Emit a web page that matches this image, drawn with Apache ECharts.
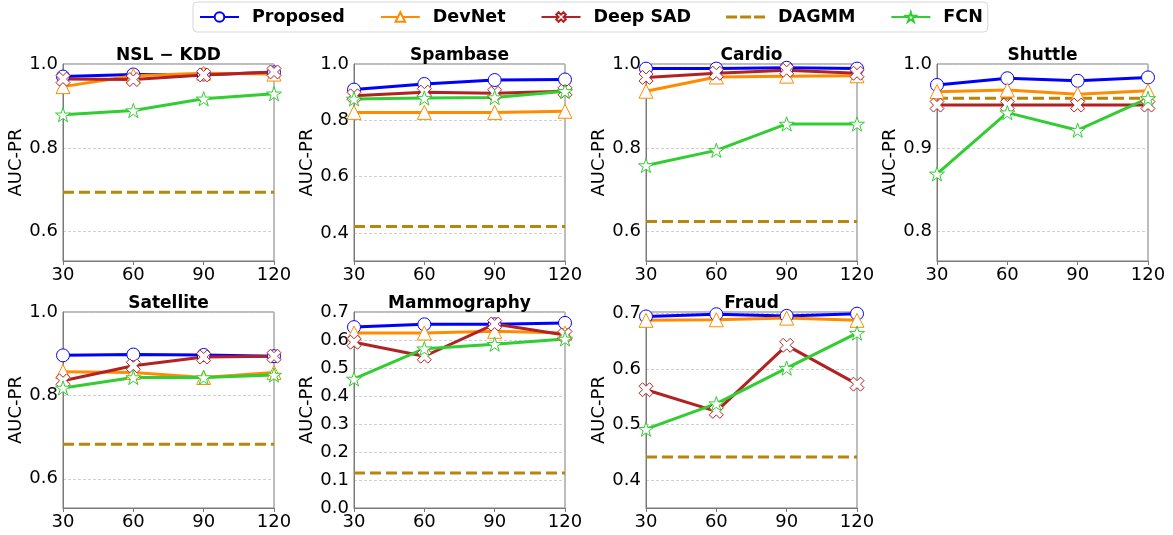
<!DOCTYPE html>
<html>
<head>
<meta charset="utf-8">
<title>AUC-PR per dataset</title>
<script src="https://cdn.jsdelivr.net/npm/echarts@6/dist/echarts.min.js"></script>
<style>
    html, body { margin: 0; padding: 0; background: #fff; }
    #main { width: 1173px; height: 535px; }
</style>
</head>
<body>
<div id="main"></div>
<script>
// 数据
var datasets = ['NSL \u2212 KDD', 'Spambase', 'Cardio', 'Shuttle', 'Satellite', 'Mammography', 'Fraud'];
var methods = ['Proposed', 'DevNet', 'Deep SAD', 'DAGMM', 'FCN'];
var xValues = [30, 60, 90, 120];

// one row per dataset, same order as datasets
var proposed = [
    [0.970, 0.975, 0.975, 0.980],
    [0.909, 0.929, 0.943, 0.945],
    [0.989, 0.989, 0.991, 0.989],
    [0.975, 0.983, 0.980, 0.984],
    [0.896, 0.898, 0.897, 0.894],
    [0.646, 0.656, 0.656, 0.661],
    [0.695, 0.699, 0.696, 0.700]
];
var devNet = [
    [0.946, 0.972, 0.978, 0.976],
    [0.828, 0.828, 0.828, 0.832],
    [0.935, 0.969, 0.971, 0.972],
    [0.967, 0.969, 0.964, 0.968],
    [0.857, 0.855, 0.843, 0.855],
    [0.625, 0.625, 0.631, 0.625],
    [0.688, 0.689, 0.692, 0.688]
];
var deepSAD = [
    [0.964, 0.963, 0.974, 0.981],
    [0.887, 0.900, 0.896, 0.903],
    [0.968, 0.978, 0.985, 0.978],
    [0.951, 0.951, 0.951, 0.951],
    [0.835, 0.871, 0.892, 0.894],
    [0.592, 0.542, 0.657, 0.618],
    [0.563, 0.524, 0.643, 0.573]
];
var dagmm = [
    [0.694, 0.694, 0.694, 0.694],
    [0.423, 0.423, 0.423, 0.423],
    [0.624, 0.624, 0.624, 0.624],
    [0.959, 0.959, 0.959, 0.959],
    [0.683, 0.683, 0.683, 0.683],
    [0.125, 0.125, 0.125, 0.125],
    [0.442, 0.442, 0.442, 0.442]
];
var fcn = [
    [0.879, 0.889, 0.917, 0.929],
    [0.876, 0.879, 0.881, 0.903],
    [0.758, 0.794, 0.857, 0.857],
    [0.869, 0.942, 0.921, 0.959],
    [0.818, 0.843, 0.843, 0.849],
    [0.461, 0.569, 0.585, 0.604],
    [0.492, 0.538, 0.602, 0.665]
];

// y tick labels and y limits per dataset
var yTicks = [
    [0.6, 0.8, 1.0],
    [0.4, 0.6, 0.8, 1.0],
    [0.6, 0.8, 1.0],
    [0.8, 0.9, 1.0],
    [0.6, 0.8, 1.0],
    [0.0, 0.1, 0.2, 0.3, 0.4, 0.5, 0.6, 0.7],
    [0.4, 0.5, 0.6, 0.7]
];
var yLimits = [
    [0.53, 1.0],
    [0.30, 1.0],
    [0.53, 1.0],
    [0.765, 1.0],
    [0.53, 1.0],
    [0.0, 0.7],
    [0.35, 0.703]
];

// 布局 (px)
var colLeft = [63, 354, 646, 937];
var rowTop = [64, 312];
var rowHeight = [197, 196];
var plotWidth = 211;

var FONT = 'DejaVu Sans';
var SPINE = '#7a7a7a';

var xMark = 'path://M1 0L2 1L3 0L4 1L3 2L4 3L3 4L2 3L1 4L0 3L1 2L0 1Z';
var starMark = 'path://M1 0L1.2245 0.691L1.9511 0.691L1.3633 1.118L1.5878 1.809L1 1.382L0.4122 1.809L0.6367 1.118L0.0489 0.691L0.7755 0.691Z';
// legend glyph for the marker-less dashed series
var dashMark = 'path://M0 0H11V3H0Z M14 0H25V3H14Z M28 0H39V3H28Z';

var values = [proposed, devNet, deepSAD, dagmm, fcn];
var looks = [
    { color: '#0000ff', symbol: 'circle', size: 13 },
    { color: '#ff8c00', symbol: 'triangle', size: 14 },
    { color: '#b22222', symbol: xMark, size: 14 },
    { color: '#b8860b', symbol: 'none', size: 0, dash: [11, 5] },
    { color: '#32cd32', symbol: starMark, size: 15 }
];

var grids = [], xAxes = [], yAxes = [], titles = [], series = [];

datasets.forEach(function (name, i) {
    var row = i < 4 ? 0 : 1
        , col = i % 4
        , ticks = yTicks[i]
        , step = Math.round((ticks[1] - ticks[0]) * 1000) / 1000;

    grids.push({
        left: colLeft[col], top: rowTop[row], width: plotWidth, height: rowHeight[row],
        show: true, borderColor: SPINE, borderWidth: 1
    });

    titles.push({
        text: name,
        left: colLeft[col] + plotWidth / 2,
        top: rowTop[row] - 17,
        textAlign: 'center',
        padding: 0,
        textStyle: { fontFamily: FONT, fontSize: 17, fontWeight: 'bold', color: '#000' }
    });

    xAxes.push({
        type: 'value', gridIndex: i,
        min: 30, max: 120, interval: 30,
        axisLine: { lineStyle: { color: SPINE } },
        axisTick: { show: true, length: 4, lineStyle: { color: SPINE } },
        splitLine: { show: false },
        axisLabel: { fontFamily: FONT, fontSize: 18, color: '#000', margin: 5 }
    });

    yAxes.push({
        type: 'value', gridIndex: i,
        min: yLimits[i][0], max: yLimits[i][1],
        minInterval: step, maxInterval: step,
        name: 'AUC-PR', nameLocation: 'middle', nameGap: 36, nameRotate: 90,
        nameTextStyle: { fontFamily: FONT, fontSize: 18, color: '#000' },
        axisLine: { show: true, lineStyle: { color: SPINE } },
        axisTick: { show: false },
        splitLine: { show: true, lineStyle: { color: '#c4c4c4', width: 0.8, type: [3, 2] } },
        axisLabel: {
            fontFamily: FONT, fontSize: 18, color: '#000', margin: 5,
            formatter: function (v) {
                var hit = ticks.some(function (t) { return Math.abs(t - v) < 1e-6; });
                return hit ? v.toFixed(1) : '';
            }
        }
    });

    methods.forEach(function (m, k) {
        var look = looks[k];
        series.push({
            name: m,
            type: 'line',
            xAxisIndex: i, yAxisIndex: i,
            data: xValues.map(function (x, j) { return [x, values[k][i][j]]; }),
            symbol: look.symbol,
            symbolSize: look.size,
            symbolKeepAspect: true,
            showSymbol: look.symbol !== 'none',
            clip: false,
            lineStyle: { color: look.color, width: 3, type: look.dash || 'solid' },
            itemStyle: { color: '#fff', borderColor: look.color, borderWidth: 1 },
            emphasis: { disabled: true },
            animation: false
        });
    });
});

// DAGMM has no marker: draw its legend entry as three dashes
var legendData = methods.map(function (m, k) {
    var look = looks[k];
    if (look.symbol !== 'none') return { name: m };
    return {
        name: m, icon: dashMark,
        itemStyle: { color: look.color, borderWidth: 0 }
    };
});

var chart = echarts.init(document.getElementById('main'), null, { renderer: 'canvas' });
chart.setOption({
    animation: false,
    textStyle: { fontFamily: FONT },
    title: titles,
    legend: {
        data: legendData,
        left: 193, top: 2,
        itemWidth: 39, itemHeight: 12, itemGap: 35,
        padding: [6, 5, 6, 6],
        borderColor: '#d6d6d6', borderWidth: 1, borderRadius: 4,
        textStyle: {
            fontFamily: FONT, fontSize: 17.5, fontWeight: 'bold', color: '#000',
            padding: [0, 0, 0, 8]
        }
    },
    grid: grids,
    xAxis: xAxes,
    yAxis: yAxes,
    series: series
});
</script>
</body>
</html>
